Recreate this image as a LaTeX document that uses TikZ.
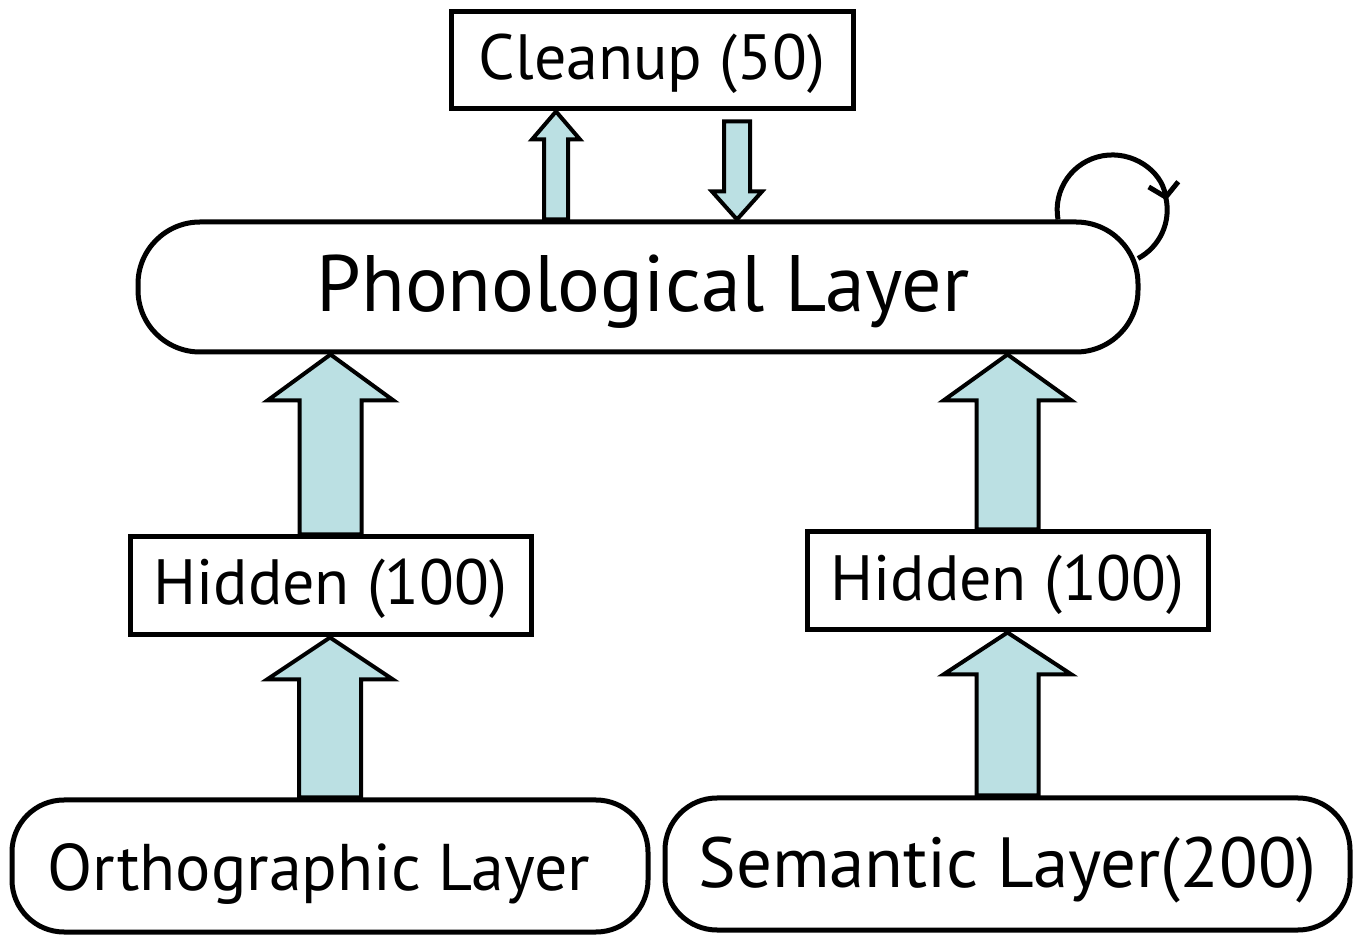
\documentclass[tikz,border=0pt]{standalone}
\usepackage{fontspec}
\setmainfont{PT Sans}
\usetikzlibrary{arrows.meta,calc}
\definecolor{arrowfill}{RGB}{187,224,227}
\newcommand\blockarrow[5]{%
  \draw[blk] let \p1=(#1), \p2=(#2) in
    ({\x1-#3},{\y1}) -- ({\x1-#3},{\y2-(#5)}) -- ({\x1-#4},{\y2-(#5)}) -- ({\x1},{\y2})
    -- ({\x1+#4},{\y2-(#5)}) -- ({\x1+#3},{\y2-(#5)}) -- ({\x1+#3},{\y1}) -- cycle;}
\begin{document}
\begin{tikzpicture}[x=1pt,y=1pt,
  box/.style={draw, line width=5pt, rectangle, inner sep=0pt, fill=white, text depth=0pt},
  layer/.style={box, rounded corners=#1},
  blk/.style={draw, line width=4pt, fill=arrowfill, line join=miter},
  fs/.style={font=\fontsize{#1}{#1}\selectfont}]
\useasboundingbox (0,0) rectangle (1366,935);
\node[box, fs=64, text height=39pt, minimum width=402pt, minimum height=97pt] (cleanup) at (652,874.5) {Cleanup (50)};
\node[layer=62pt, fs=80, text height=50pt, minimum width=1000pt, minimum height=130pt] (phon) at (638,648) {\hspace*{10pt}Phonological Layer};
\node[box, fs=64, text height=38pt, minimum width=401pt, minimum height=98pt] (hidL) at (330.5,349) {Hidden (100)};
\node[box, fs=64, text height=40pt, minimum width=401pt, minimum height=98pt] (hidR) at (1007.5,354) {Hidden (100)};
\node[layer=52pt, fs=66, text height=48pt, minimum width=636pt, minimum height=132pt] (orth) at (330,69) {Orthographic Layer\hspace*{22pt}};
\node[layer=52pt, fs=71, text height=46pt, minimum width=685pt, minimum height=132pt] (sem) at (1007.5,71) {Semantic Layer(200)};
\coordinate (cu) at ($(phon.north)+(-82,0)$);
\coordinate (cd) at ($(cleanup.south)+(85,-10)$);
\blockarrow{hidL.north}{phon.south}{31}{63}{46}
\blockarrow{orth.north}{hidL.south}{31}{63}{42}
\blockarrow{hidR.north}{phon.south}{31}{64}{46}
\blockarrow{sem.north}{hidR.south}{31}{64}{42}
\blockarrow{cu}{cleanup.south}{12}{24}{28}
\blockarrow{cd}{phon.north}{13}{25}{-28}
\coordinate (ls) at ($(phon.north)+(420,0)$);
\coordinate (lc) at ($(ls)+(54.2,9.6)$);
\coordinate (lm) at ($(lc)+(13:55)$);
\draw[line width=5pt, -{Straight Barb[length=13pt,width=30pt,line width=5pt]}]
  (ls) arc[start angle=190, end angle=10, radius=55pt];
\draw[line width=5pt] (lm) arc[start angle=13, end angle=-62, radius=55pt];
\end{tikzpicture}
\end{document}
